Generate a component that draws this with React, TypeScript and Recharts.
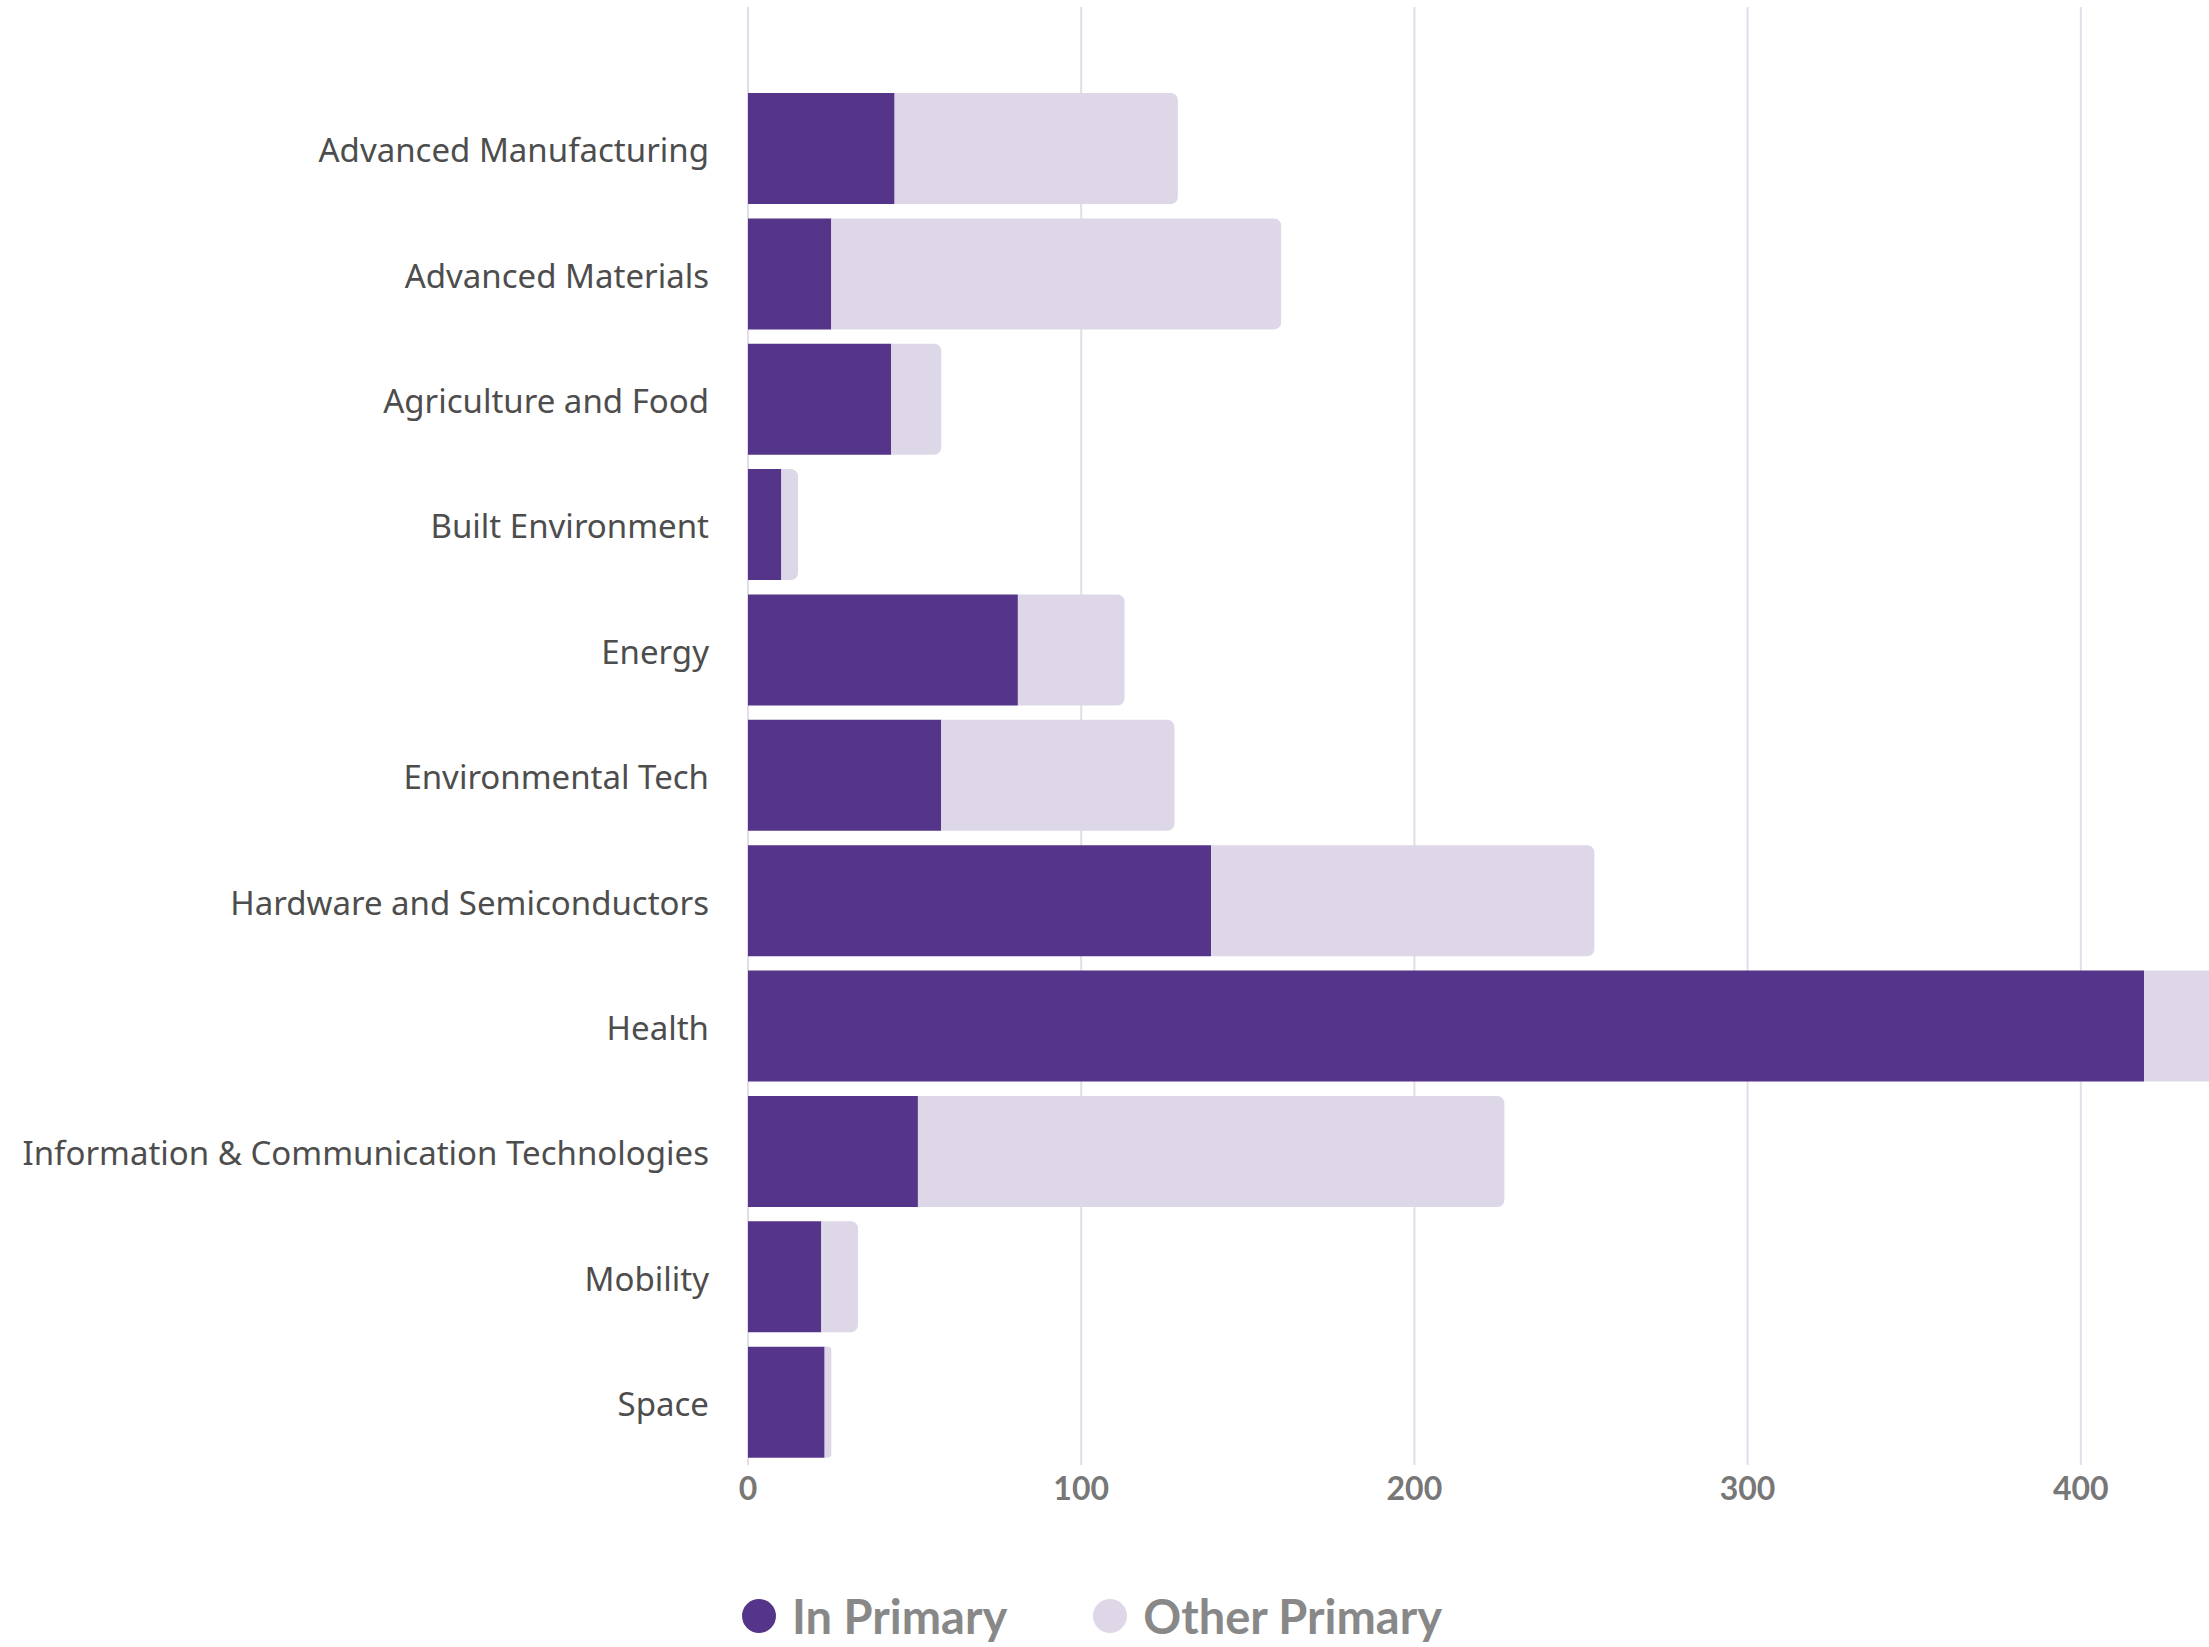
import React from 'react';
import {
  BarChart,
  Bar,
  XAxis,
  YAxis,
  CartesianGrid,
  Legend,
} from 'recharts';

const categories = [
  'Advanced Manufacturing',
  'Advanced Materials',
  'Agriculture and Food',
  'Built Environment',
  'Energy',
  'Environmental Tech',
  'Hardware and Semiconductors',
  'Health',
  'Information & Communication Technologies',
  'Mobility',
  'Space',
];
const inPrimary = [44, 25, 43, 10, 81, 58, 139, 419, 51, 22, 23];
const otherPrimary = [85, 135, 15, 5, 32, 70, 115, 30, 176, 11, 2];
const xTicks = [0, 100, 200, 300, 400];

const PURPLE = '#553589';
const LILAC = '#ddd7e8';

const data = categories.map((name, i) => ({
  name,
  inPrimary: inPrimary[i],
  otherPrimary: otherPrimary[i],
}));

const legendItems = [
  { label: 'In Primary', color: PURPLE },
  { label: 'Other Primary', color: LILAC },
];

const ChartLegend = () => (
  <div
    style={{
      height: 50,
      display: 'flex',
      alignItems: 'center',
      paddingLeft: 742,
      fontFamily: 'Lato, sans-serif',
      fontWeight: 700,
      fontSize: 47,
      lineHeight: 1,
      color: '#888888',
    }}
  >
    {legendItems.map((item, i) => (
      <div
        key={item.label}
        style={{ display: 'flex', alignItems: 'center', marginRight: i === 0 ? 86 : 0 }}
      >
        <span
          style={{
            width: 34,
            height: 34,
            borderRadius: '50%',
            background: item.color,
            marginRight: 16,
            display: 'inline-block',
          }}
        />
        <span>{item.label}</span>
      </div>
    ))}
  </div>
);

const App = () => {
  return (
    <div
      style={{
        position: 'absolute',
        left: 0,
        top: 0,
        width: 2209,
        height: 1647,
        overflow: 'hidden',
        background: '#fff',
      }}
    >
      <BarChart
        layout='vertical'
        width={2440}
        height={1647}
        data={data}
        margin={{ top: 7, right: 26, bottom: 0, left: 0 }}
        barCategoryGap='5.6%'
      >
        <CartesianGrid horizontal={false} stroke='#e2dde9' strokeWidth={2} />
        <XAxis
          type='number'
          domain={[0, 500]}
          ticks={xTicks}
          axisLine={false}
          tickLine={false}
          tickSize={0}
          tickMargin={12}
          height={132}
          tick={{
            fill: '#777777',
            fontSize: 32,
            fontWeight: 700,
            fontFamily: 'Lato, sans-serif',
          }}
        />
        <YAxis
          type='category'
          dataKey='name'
          width={748}
          axisLine={false}
          tickLine={false}
          tickSize={0}
          tickMargin={39}
          padding={{ top: 79, bottom: 0 }}
          interval={0}
          tick={{
            fill: '#4d4d4d',
            fontSize: 33,
            fontFamily: '"Noto Sans", sans-serif',
            dy: 2,
          }}
        />
        <Legend
          verticalAlign='bottom'
          align='left'
          wrapperStyle={{ bottom: 6 }}
          content={() => <ChartLegend />}
        />
        <Bar
          dataKey='inPrimary'
          name='In Primary'
          stackId='a'
          fill={PURPLE}
          isAnimationActive={false}
        />
        <Bar
          dataKey='otherPrimary'
          name='Other Primary'
          stackId='a'
          fill={LILAC}
          radius={[0, 7, 7, 0]}
          isAnimationActive={false}
        />
      </BarChart>
    </div>
  );
};

export default App;
